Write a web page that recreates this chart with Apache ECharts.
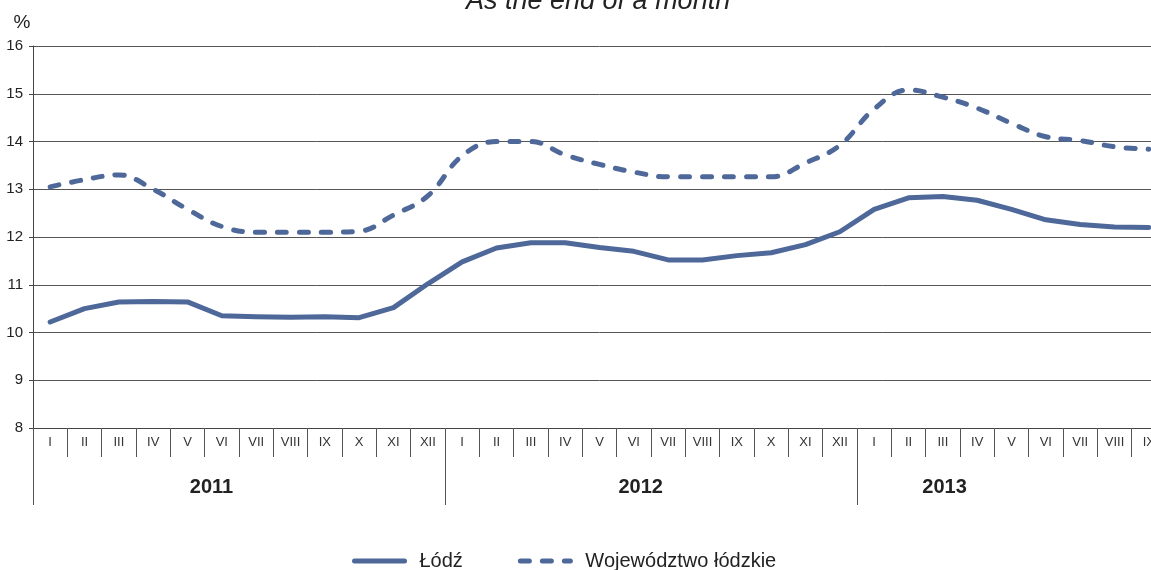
<!DOCTYPE html>
<html>
<head>
<meta charset="utf-8">
<script src="https://cdn.jsdelivr.net/npm/echarts@6/dist/echarts.min.js"></script>
<style>
  html, body { margin: 0; padding: 0; background: #fff; overflow: hidden; }
  /* the plot runs past the right edge of the picture, as in the original */
  #main { width: 1166px; height: 570px; }
</style>
</head>
<body>
<div id="main"></div>
<script>
// months on the axis (2011 I .. 2013 IX)
const months = [
  'I', 'II', 'III', 'IV', 'V', 'VI', 'VII', 'VIII', 'IX', 'X', 'XI', 'XII',
  'I', 'II', 'III', 'IV', 'V', 'VI', 'VII', 'VIII', 'IX', 'X', 'XI', 'XII',
  'I', 'II', 'III', 'IV', 'V', 'VI', 'VII', 'VIII', 'IX'
];
const years = ['2011', '2012', '2013'];
const yearStart = [0, 12, 24];

// Łódź
const lodz = [
  10.22, 10.50, 10.64, 10.65, 10.64, 10.35, 10.33, 10.32, 10.33, 10.31, 10.52, 11.02,
  11.48, 11.77, 11.88, 11.88, 11.78, 11.70, 11.52, 11.52, 11.61, 11.67, 11.84, 12.11,
  12.58, 12.82, 12.85, 12.77, 12.58, 12.36, 12.26, 12.21, 12.20
];
// Województwo łódzkie
const wojewodztwo = [
  13.05, 13.20, 13.30, 13.00, 12.58, 12.22, 12.10, 12.10, 12.10, 12.12, 12.46, 12.86,
  13.70, 14.00, 14.00, 13.72, 13.52, 13.36, 13.26, 13.26, 13.26, 13.26, 13.55, 13.92,
  14.68, 15.08, 14.93, 14.70, 14.38, 14.10, 14.02, 13.89, 13.84
];

const yTicks = { min: 8, max: 16, step: 1 };
const lineColor = '#4d6899';
const font = 'Liberation Sans, Arial, sans-serif';

const chart = echarts.init(document.getElementById('main'), null, { renderer: 'canvas' });

const option = {
  backgroundColor: '#ffffff',
  animation: false,
  title: {
    text: 'As the end of a month',
    left: 461,
    top: -17,
    textStyle: { fontFamily: font, fontStyle: 'italic', fontWeight: 'normal', fontSize: 27, color: '#222' }
  },
  legend: {
    top: 546,
    left: 347,
    itemWidth: 50,
    itemHeight: 16,
    itemGap: 55,
    itemStyle: { opacity: 0 },
    lineStyle: { width: 5, cap: 'round' },
    textStyle: { fontFamily: font, fontSize: 20, color: '#222', padding: [0, 0, 0, 10] },
    data: ['Łódź', 'Województwo łódzkie']
  },
  grid: { left: 33, right: 0, top: 46, bottom: 142 },
  xAxis: [
    {
      type: 'category',
      data: months,
      boundaryGap: true,
      axisLine: { show: true, lineStyle: { color: '#444', width: 1 } },
      axisTick: { show: true, interval: 0, length: 29, lineStyle: { color: '#555', width: 1 } },
      axisLabel: { interval: 0, margin: 8, fontFamily: font, fontSize: 13, color: '#333' },
      splitLine: { show: false }
    },
    {
      // year band under the months
      type: 'value',
      min: 0,
      max: months.length,
      position: 'bottom',
      axisLine: { show: false },
      axisTick: { show: true, customValues: yearStart, length: 77, lineStyle: { color: '#555', width: 1 } },
      axisLabel: {
        customValues: [5.2, 17.7, 26.55],
        margin: 49,
        fontFamily: font,
        fontSize: 20,
        fontWeight: 'bold',
        color: '#222',
        formatter: function (v) {
          let k = 0;
          for (let i = 0; i < yearStart.length; i++) {
            if (v >= yearStart[i]) k = i;
          }
          return years[k];
        }
      },
      splitLine: { show: false }
    }
  ],
  yAxis: {
    type: 'value',
    min: yTicks.min,
    max: yTicks.max,
    interval: yTicks.step,
    name: '%',
    nameLocation: 'end',
    nameGap: 14,
    nameTextStyle: { fontFamily: font, fontSize: 19, color: '#222', padding: [0, 22, 0, 0] },
    axisLine: { show: true, lineStyle: { color: '#444', width: 1 } },
    axisTick: { show: true, length: 4, lineStyle: { color: '#444' } },
    axisLabel: { margin: 10, fontFamily: font, fontSize: 15, color: '#222' },
    splitLine: { show: true, lineStyle: { color: '#555', width: 1 } }
  },
  series: [
    {
      name: 'Łódź',
      type: 'line',
      data: lodz,
      showSymbol: false,
      symbol: 'none',
      smooth: false,
      itemStyle: { color: lineColor },
      lineStyle: { color: lineColor, width: 5, cap: 'round', join: 'round' },
      z: 3
    },
    {
      name: 'Województwo łódzkie',
      type: 'line',
      data: wojewodztwo,
      showSymbol: false,
      symbol: 'none',
      smooth: 0.4,
      itemStyle: { color: lineColor },
      lineStyle: { color: lineColor, width: 5, type: [9, 13], cap: 'round' },
      z: 3
    }
  ]
};

chart.setOption(option);
</script>
</body>
</html>
